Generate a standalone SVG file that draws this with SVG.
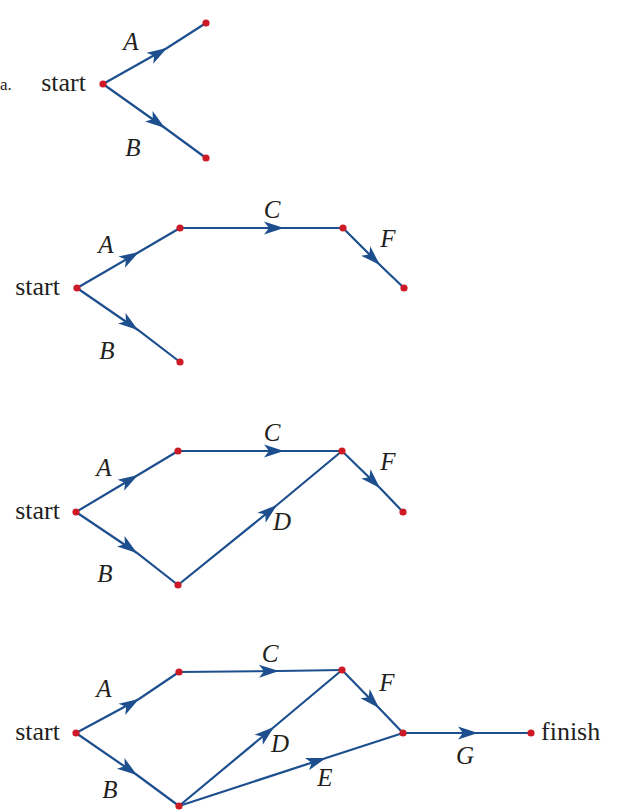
<svg xmlns="http://www.w3.org/2000/svg" width="618" height="810" viewBox="0 0 618 810">
<defs>
<marker id="arr" markerUnits="userSpaceOnUse" viewBox="-2 -8 24 16" markerWidth="24" markerHeight="16" refX="20" refY="0" orient="auto">
<path d="M0,-6.5 L20,0 L0,6.5 L5,0 Z" fill="#1d4f8f"/>
</marker>
</defs>
<style>
.e{fill:none;stroke:#1d4f8f;stroke-width:2.2;marker-mid:url(#arr)}
.n{fill:#cc1a26}
.t{font-family:'Liberation Serif',serif;font-size:26px;fill:#231f20}
.l{font-family:'Liberation Serif',serif;font-size:25px;font-style:italic;fill:#231f20;text-anchor:middle}
</style>
<rect width="618" height="810" fill="#fff"/>
<text class="t" x="0" y="90" style="font-size:17px">a.</text>

<g id="connectors">
<path class="e" d="M103,84 L167,48 L206,23"/>
<path class="e" d="M103,84 L165,128 L206,158"/>
<path class="e" d="M77,288 L139,252 L180,228"/>
<path class="e" d="M77,288 L138,330 L180,362"/>
<path class="e" d="M180,228 L284,228 L343,228"/>
<path class="e" d="M343,228 L380,265 L404,288"/>
<path class="e" d="M76,512 L138,475 L178,451"/>
<path class="e" d="M76,512 L137,553 L178,585"/>
<path class="e" d="M178,451 L284,451 L342,451"/>
<path class="e" d="M342,451 L380,488 L403,512"/>
<path class="e" d="M178,585 L277,505 L342,451"/>
<path class="e" d="M76,733 L139,699 L179,672"/>
<path class="e" d="M76,733 L137,775 L179,806"/>
<path class="e" d="M179,672 L279,671 L342,670"/>
<path class="e" d="M342,670 L379,708 L403,733"/>
<path class="e" d="M179,806 L274,727 L342,670"/>
<path class="e" d="M179,806 L326,758 L403,733"/>
<path class="e" d="M403,733 L478,733 L531,733"/>
<g id="edge-labels">
<text class="l" x="131" y="50">A</text>
<text class="l" x="133" y="156">B</text>
<text class="l" x="106" y="253">A</text>
<text class="l" x="107" y="359">B</text>
<text class="l" x="272" y="218">C</text>
<text class="l" x="388" y="247">F</text>
<text class="l" x="104" y="476">A</text>
<text class="l" x="105" y="582">B</text>
<text class="l" x="272" y="441">C</text>
<text class="l" x="388" y="470">F</text>
<text class="l" x="282" y="530">D</text>
<text class="l" x="104" y="697">A</text>
<text class="l" x="110" y="798">B</text>
<text class="l" x="270" y="662">C</text>
<text class="l" x="280" y="752">D</text>
<text class="l" x="325" y="786">E</text>
<text class="l" x="387" y="691">F</text>
<text class="l" x="465" y="764">G</text>
</g>
</g>

<g id="p1-start"><circle class="n" cx="103" cy="84" r="3.6"/><text class="t" x="86" y="91" text-anchor="end">start</text></g>
<g id="p1-a"><circle class="n" cx="206" cy="23" r="3.6"/></g>
<g id="p1-b"><circle class="n" cx="206" cy="158" r="3.6"/></g>

<g id="p2-start"><circle class="n" cx="77" cy="288" r="3.6"/><text class="t" x="60" y="295" text-anchor="end">start</text></g>
<g id="p2-a"><circle class="n" cx="180" cy="228" r="3.6"/></g>
<g id="p2-b"><circle class="n" cx="180" cy="362" r="3.6"/></g>
<g id="p2-c"><circle class="n" cx="343" cy="228" r="3.6"/></g>
<g id="p2-f"><circle class="n" cx="404" cy="288" r="3.6"/></g>

<g id="p3-start"><circle class="n" cx="76" cy="512" r="3.6"/><text class="t" x="60" y="519" text-anchor="end">start</text></g>
<g id="p3-a"><circle class="n" cx="178" cy="451" r="3.6"/></g>
<g id="p3-b"><circle class="n" cx="178" cy="585" r="3.6"/></g>
<g id="p3-c"><circle class="n" cx="342" cy="451" r="3.6"/></g>
<g id="p3-f"><circle class="n" cx="403" cy="512" r="3.6"/></g>

<g id="p4-start"><circle class="n" cx="76" cy="733" r="3.6"/><text class="t" x="60" y="740" text-anchor="end">start</text></g>
<g id="p4-a"><circle class="n" cx="179" cy="672" r="3.6"/></g>
<g id="p4-b"><circle class="n" cx="179" cy="806" r="3.6"/></g>
<g id="p4-c"><circle class="n" cx="342" cy="670" r="3.6"/></g>
<g id="p4-f"><circle class="n" cx="403" cy="733" r="3.6"/></g>
<g id="p4-finish"><circle class="n" cx="531" cy="733" r="3.6"/><text class="t" x="541" y="740">finish</text></g>
</svg>
